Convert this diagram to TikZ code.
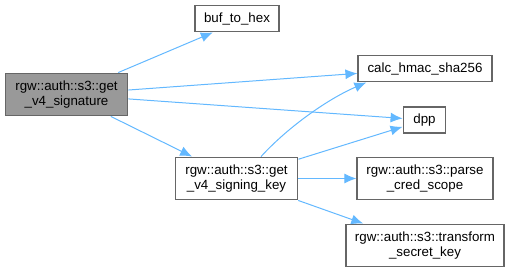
\documentclass[tikz,border=0pt]{standalone}
\usepackage{fontspec}
\setmainfont{Liberation Sans}
\usetikzlibrary{positioning}
\usetikzlibrary{arrows.meta,calc}
\definecolor{boxline}{HTML}{666666}
\definecolor{boxgray}{HTML}{999999}
\definecolor{callblue}{HTML}{63B8FF}

\begin{document}
\begin{tikzpicture}[
    x=0.75pt, y=-0.75pt,
    fn/.style={rectangle, draw=boxline, line width=0.9pt, fill=white, align=center,
    inner sep=0pt, font=\fontsize{10}{11.25}\selectfont},
    fnmain/.style={fn, fill=boxgray},
    call/.style={draw=callblue, line width=0.75pt, -{Latex[length=9pt,width=7.5pt]}}
    ]
\useasboundingbox (0,0) rectangle (510,272);

%caller
\node[fnmain, minimum width=92pt, minimum height=32pt] (sig) at (66.5,94.5) {rgw::auth::s3::get\\\_v4\_signature};
%Upper part
\node[fn, minimum width=63pt, minimum height=20pt] (hex) at (237,18.5) {buf\_to\_hex};
\node[fn, minimum width=100.5pt, minimum height=20pt] (hmac) at (425,68.5) {calc\_hmac\_sha256};
\node[fn, minimum width=32pt, minimum height=19.5pt] (dpp) at (424.5,120) {dpp};
%Lower part
\node[fn, minimum width=92pt, minimum height=32pt] (key) at (236.5,178.5) {rgw::auth::s3::get\\\_v4\_signing\_key};
\node[fn, minimum width=102pt, minimum height=32pt] (scope) at (425,178.5) {rgw::auth::s3::parse\\\_cred\_scope};
\node[fn, minimum width=118.5pt, minimum height=32pt] (secret) at (425,245.5) {rgw::auth::s3::transform\\\_secret\_key};

\draw[call] (sig) -- (hex.-150);
\draw[call] (sig) -- (hmac);
\draw[call] (sig) -- (dpp);
\draw[call] (sig) -- (key);
\draw[call] ($(key.north)+(24.5,0)$) .. controls (290,125) and (330,98) .. ($(hmac.south west)+(9,0)$);
\draw[call] (key) -- (dpp);
\draw[call] (key) -- (scope);
\draw[call] (key) -- (secret);
\end{tikzpicture}
\end{document}
